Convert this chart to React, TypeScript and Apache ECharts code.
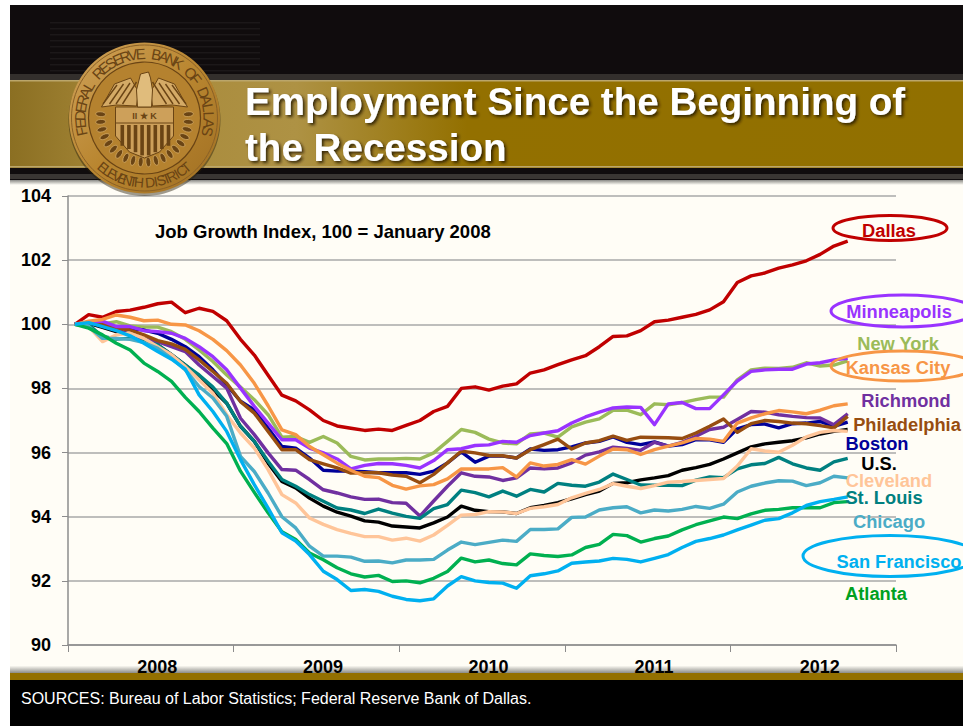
import React, { useEffect, useRef } from "react";
import * as echarts from "echarts";

const years = ["2008", "2009", "2010", "2011", "2012"];
const monthNames = ["Jan", "Feb", "Mar", "Apr", "May", "Jun", "Jul", "Aug", "Sep", "Oct", "Nov", "Dec"];
const months = years.flatMap((y) => monthNames.map((m) => `${m} ${y}`));
const yTicks = [90, 92, 94, 96, 98, 100, 102, 104];

const dallas = [100,100.3,100.22,100.4,100.44,100.53,100.64,100.69,100.36,100.5,100.4,100.11,99.53,99.04,98.41,97.79,97.61,97.33,97.0,96.83,96.76,96.69,96.73,96.69,96.85,97.0,97.28,97.44,98.0,98.05,97.95,98.07,98.14,98.48,98.58,98.74,98.89,99.02,99.3,99.62,99.64,99.8,100.08,100.13,100.22,100.31,100.45,100.7,101.3,101.51,101.6,101.75,101.85,101.98,102.18,102.44,102.59];
const minneapolis = [100,100.05,100.1,99.93,99.93,99.8,99.77,99.72,99.56,99.3,98.99,98.58,98.01,97.44,96.92,96.4,96.4,96.14,95.99,95.8,95.49,95.6,95.66,95.65,95.6,95.52,95.75,96.09,96.12,96.22,96.24,96.35,96.32,96.53,96.61,96.68,96.92,97.11,97.26,97.39,97.42,97.41,96.87,97.52,97.56,97.37,97.37,97.8,98.23,98.53,98.58,98.6,98.6,98.76,98.8,98.89,98.94];
const newYork = [100,100.03,100.01,100.08,99.95,99.91,99.91,99.77,99.53,99.2,98.84,98.42,98.04,97.65,97.18,96.48,96.5,96.32,96.5,96.3,95.88,95.77,95.8,95.8,95.82,95.8,95.99,96.35,96.72,96.63,96.42,96.3,96.27,96.58,96.61,96.48,96.8,96.95,97.05,97.32,97.32,97.18,97.52,97.49,97.56,97.65,97.73,97.73,98.27,98.58,98.63,98.62,98.66,98.8,98.7,98.73,98.86];
const kansasCity = [100,100.1,100.15,100.29,100.22,100.11,100.13,100,99.98,99.8,99.53,99.18,98.73,98.16,97.46,96.71,96.56,96.19,95.93,95.67,95.45,95.26,95.22,94.98,94.86,94.96,95.0,95.18,95.49,95.49,95.49,95.53,95.24,95.68,95.58,95.63,95.78,95.64,95.89,96.11,96.09,95.94,96.09,96.2,96.3,96.44,96.42,96.35,96.92,97.08,97.21,97.31,97.27,97.21,97.32,97.46,97.52];
const richmond = [100,100.03,99.98,99.84,99.67,99.53,99.46,99.3,99.15,98.73,98.37,98.01,97.07,96.56,95.99,95.47,95.45,95.16,94.84,94.74,94.62,94.54,94.55,94.44,94.42,94.02,94.49,94.95,95.37,95.26,95.24,95.13,95.21,95.52,95.49,95.52,95.68,95.92,96.02,96.17,96.13,96.07,96.32,96.2,96.32,96.51,96.72,96.79,97.03,97.28,97.26,97.18,97.13,97.09,97.08,96.87,97.21];
const philadelphia = [100,100.05,100,99.88,99.82,99.67,99.49,99.39,99.22,98.89,98.53,98.16,97.59,97.23,96.66,96.09,96.09,95.78,95.65,95.52,95.36,95.37,95.37,95.3,95.26,95.06,95.32,95.68,96.04,95.99,95.91,95.9,95.83,96.09,96.25,96.42,96.11,96.3,96.37,96.51,96.38,96.48,96.47,96.46,96.44,96.61,96.82,97.05,96.63,96.9,97.0,96.97,96.92,96.9,96.84,96.77,97.13];
const boston = [100,100.05,100.01,99.9,99.87,99.82,99.72,99.53,99.3,98.99,98.58,98.11,97.6,97.33,96.76,96.19,96.14,95.83,95.45,95.42,95.42,95.4,95.37,95.37,95.37,95.32,95.42,95.68,96.02,95.7,95.89,95.89,95.83,96.11,96.07,96.09,96.18,96.3,96.35,96.49,96.32,96.25,96.33,96.2,96.25,96.4,96.4,96.32,96.74,96.87,96.89,96.77,96.9,96.92,96.97,96.82,96.95];
const us = [100,100.03,99.9,99.77,99.7,99.56,99.36,99.05,98.73,98.37,97.96,97.54,96.82,96.35,95.67,95.1,94.9,94.58,94.33,94.14,94.02,93.87,93.83,93.71,93.68,93.65,93.81,93.99,94.33,94.2,94.16,94.15,94.1,94.28,94.35,94.44,94.56,94.69,94.8,95.04,95.06,95.15,95.21,95.28,95.45,95.53,95.63,95.8,95.99,96.18,96.27,96.32,96.37,96.46,96.58,96.66,96.72];
const cleveland = [100,99.93,99.46,99.67,99.72,99.56,99.3,99.05,98.68,98.27,97.85,97.18,96.61,96.14,95.47,94.69,94.43,93.96,93.76,93.6,93.48,93.38,93.38,93.27,93.33,93.24,93.43,93.73,94.05,94.07,94.16,94.15,94.1,94.26,94.31,94.38,94.59,94.73,94.85,95.03,94.95,94.88,94.97,95.08,95.1,95.13,95.16,95.19,95.58,96.12,96.05,96.01,96.23,96.49,96.63,96.69,96.66];
const stLouis = [100,99.98,99.62,99.54,99.56,99.46,99.36,99.05,98.73,98.42,98.04,97.54,96.82,96.35,95.73,95.16,94.95,94.69,94.48,94.27,94.21,94.1,94.24,94.11,94.01,93.95,94.25,94.38,94.83,94.75,94.62,94.8,94.64,94.85,94.77,95.04,94.98,94.95,95.08,95.33,95.16,94.99,94.98,94.98,94.97,95.14,95.24,95.22,95.49,95.62,95.66,95.85,95.65,95.52,95.45,95.71,95.82];
const chicago = [100,99.93,99.56,99.56,99.53,99.43,99.25,98.94,98.58,98.06,97.7,97.13,95.88,95.41,94.74,94.0,93.65,93.08,92.77,92.77,92.74,92.61,92.62,92.56,92.65,92.65,92.67,92.96,93.21,93.13,93.2,93.27,93.23,93.6,93.6,93.62,93.98,93.99,94.21,94.28,94.31,94.12,94.21,94.18,94.23,94.32,94.26,94.39,94.77,94.95,95.05,95.12,95.11,94.97,95.06,95.26,95.21];
const atlanta = [100,99.88,99.67,99.41,99.2,98.79,98.53,98.22,97.72,97.28,96.76,96.28,95.42,94.76,94.12,93.53,93.29,92.87,92.66,92.41,92.22,92.12,92.17,91.98,92.0,91.94,92.08,92.29,92.71,92.59,92.65,92.54,92.5,92.84,92.79,92.76,92.81,93.04,93.14,93.45,93.41,93.21,93.32,93.4,93.59,93.75,93.87,93.99,93.94,94.09,94.2,94.23,94.28,94.28,94.28,94.44,94.47];
const sanFrancisco = [100,100.05,99.93,99.8,99.64,99.41,99.15,98.91,98.6,97.8,97.28,96.66,95.78,95.0,94.27,93.5,93.24,92.82,92.3,92.04,91.7,91.73,91.67,91.52,91.42,91.38,91.44,91.84,92.13,92.0,91.95,91.93,91.77,92.16,92.22,92.31,92.55,92.59,92.62,92.7,92.67,92.59,92.7,92.82,93.04,93.23,93.32,93.43,93.59,93.74,93.89,93.94,94.12,94.35,94.47,94.54,94.62];

const SANS = "'Liberation Sans', Arial, sans-serif";
const NARROW = "'Liberation Sans Narrow', 'Liberation Sans', sans-serif";

// draw order: first drawn lies underneath
const lines: [string, number[], string][] = [
  ["Dallas", dallas, "#C00000"],
  ["New York", newYork, "#9BBB59"],
  ["U.S.", us, "#000000"],
  ["Boston", boston, "#000099"],
  ["Richmond", richmond, "#7030A0"],
  ["Philadelphia", philadelphia, "#974D10"],
  ["St. Louis", stLouis, "#008080"],
  ["Minneapolis", minneapolis, "#9933FF"],
  ["Kansas City", kansasCity, "#F79646"],
  ["Cleveland", cleveland, "#FFC599"],
  ["Chicago", chicago, "#4BACC6"],
  ["Atlanta", atlanta, "#00B050"],
  ["San Francisco", sanFrancisco, "#00B0F0"],
];

const labels: [string, number, number, string][] = [
  ["Dallas", 889, 230, "#C00000"],
  ["Minneapolis", 899, 311, "#9933FF"],
  ["New York", 898, 343, "#9BBB59"],
  ["Kansas City", 898, 367, "#F79646"],
  ["Richmond", 906, 400, "#7030A0"],
  ["Philadelphia", 907, 424, "#974D10"],
  ["Boston", 877, 443, "#000099"],
  ["U.S.", 879, 463, "#000000"],
  ["Cleveland", 889, 480, "#FFC599"],
  ["St. Louis", 884, 497, "#008080"],
  ["Chicago", 889, 521, "#4BACC6"],
  ["San Francisco", 899, 561, "#00B0F0"],
  ["Atlanta", 876, 593, "#00A020"],
];

const rings: [number, number, number, number, string][] = [
  [890, 228, 57, 12.5, "#C00000"],
  [903, 311, 72, 16, "#9933FF"],
  [903, 366, 72, 15, "#F79646"],
  [890, 556, 87, 20.5, "#00B0F0"],
];

const sealTop = "FEDERAL RESERVE BANK OF DALLAS";
const sealBottom = "ELEVENTH DISTRICT";

function sealGraphics(cx: number, cy: number) {
  const dark = "#6A4414";
  const els: any[] = [];
  const z = 5;
  els.push({ type: "circle", z, shape: { cx, cy: cy + 2, r: 76 }, style: { fill: "rgba(40,30,10,0.45)" } });
  els.push({
    type: "circle", z, shape: { cx, cy, r: 75.5 },
    style: {
      fill: { type: "linear", x: 0, y: 0, x2: 1, y2: 1, colorStops: [
        { offset: 0, color: "#CFA25A" }, { offset: 0.5, color: "#B98630" }, { offset: 1, color: "#A06F22" } ] },
    },
  });
  els.push({ type: "circle", z, shape: { cx, cy, r: 73 }, style: { fill: "none", stroke: "#8A6026", lineWidth: 1 } });
  els.push({ type: "circle", z, shape: { cx, cy, r: 56 }, style: { fill: "#B5822F", stroke: dark, lineWidth: 1.2 } });

  // laurel
  for (let i = 0; i < 10; i++) {
    const a = (Math.PI / 180) * (95 + i * 10);
    const r = 44;
    const px = Math.cos(a) * r;
    const py = Math.sin(a) * r;
    els.push({ type: "ellipse", z, shape: { cx: cx + px, cy: cy + py, rx: 5, ry: 2.4 }, rotation: -a, originX: cx + px, originY: cy + py, style: { fill: dark, stroke: "#DDB673", lineWidth: 0.6 } });
    els.push({ type: "ellipse", z, shape: { cx: cx - px, cy: cy + py, rx: 5, ry: 2.4 }, rotation: a, originX: cx - px, originY: cy + py, style: { fill: dark, stroke: "#DDB673", lineWidth: 0.6 } });
  }
  // shield
  els.push({ type: "polygon", z, shape: { points: [[cx - 29, cy - 11], [cx + 29, cy - 11], [cx + 29, cy + 18], [cx + 15, cy + 34], [cx, cy + 40], [cx - 15, cy + 34], [cx - 29, cy + 18]] }, style: { fill: "#CDA05A", stroke: dark, lineWidth: 1 } });
  for (let i = 0; i < 8; i++) {
    const x = cx - 24 + i * 6.6;
    const h = 32 - Math.abs(i - 3.5) * 3.2;
    els.push({ type: "rect", z, shape: { x, y: cy + 7, width: 3.6, height: h }, style: { fill: dark } });
  }
  els.push({ type: "line", z, shape: { x1: cx - 29, y1: cy + 5, x2: cx + 29, y2: cy + 5 }, style: { stroke: dark, lineWidth: 1 } });
  els.push({ type: "text", z, x: cx, y: cy - 2, style: { text: "II ★ K", fill: dark, font: `bold 9px ${SANS}`, align: "center", verticalAlign: "middle" } });
  // wings and head
  els.push({ type: "polygon", z, shape: { points: [[cx - 6, cy - 26], [cx - 14, cy - 40], [cx - 30, cy - 34], [cx - 43, cy - 11], [cx - 28, cy - 13], [cx - 8, cy - 12]] }, style: { fill: "#D4AA66", stroke: dark, lineWidth: 1 } });
  els.push({ type: "polygon", z, shape: { points: [[cx + 6, cy - 26], [cx + 14, cy - 40], [cx + 30, cy - 34], [cx + 43, cy - 11], [cx + 28, cy - 13], [cx + 8, cy - 12]] }, style: { fill: "#D4AA66", stroke: dark, lineWidth: 1 } });
  for (let i = 0; i < 4; i++) {
    const d = 11 + i * 6.5;
    els.push({ type: "line", z, shape: { x1: cx - d + 3, y1: cy - 36 + i, x2: cx - d - 11, y2: cy - 14 }, style: { stroke: dark, lineWidth: 1.4 } });
    els.push({ type: "line", z, shape: { x1: cx + d - 3, y1: cy - 36 + i, x2: cx + d + 11, y2: cy - 14 }, style: { stroke: dark, lineWidth: 1.4 } });
  }
  els.push({ type: "polygon", z, shape: { points: [[cx - 7, cy - 11], [cx - 8, cy - 28], [cx - 4, cy - 44], [cx + 4, cy - 46], [cx + 6, cy - 40], [cx + 8, cy - 28], [cx + 7, cy - 11]] }, style: { fill: "#E0BC7C", stroke: dark, lineWidth: 1 } });
  // lettering round the rim, one rotated letter at a time
  const R = 64.5;
  const topStart = (-102 * Math.PI) / 180;
  const topEnd = (102 * Math.PI) / 180;
  [...sealTop].forEach((ch, i) => {
    const t = topStart + ((topEnd - topStart) * i) / (sealTop.length - 1);
    els.push({
      type: "text", z, x: cx + R * Math.sin(t), y: cy - R * Math.cos(t), rotation: -t,
      style: { text: ch, fill: dark, font: `15px ${NARROW}`, align: "center", verticalAlign: "middle" },
    });
  });
  const botStart = (220 * Math.PI) / 180;
  const botEnd = (140 * Math.PI) / 180;
  [...sealBottom].forEach((ch, i) => {
    const t = botStart + ((botEnd - botStart) * i) / (sealBottom.length - 1);
    els.push({
      type: "text", z, x: cx + R * Math.sin(t), y: cy - R * Math.cos(t), rotation: -(t - Math.PI),
      style: { text: ch, fill: dark, font: `14px ${NARROW}`, align: "center", verticalAlign: "middle" },
    });
  });
  return els;
}

function backdrop() {
  const z = -5;
  const els: any[] = [
    { type: "rect", z, shape: { x: 0, y: 0, width: 963, height: 726 }, style: { fill: "#FFFFFF" } },
    { type: "rect", z, shape: { x: 10, y: 5, width: 953, height: 721 }, style: { fill: "#100C0D" } },
    { type: "rect", z, shape: { x: 10, y: 74, width: 953, height: 6 }, style: { fill: "#332F2C" } },
    { type: "rect", z, shape: { x: 10, y: 80, width: 953, height: 88 }, style: {
      fill: { type: "linear", x: 0, y: 0, x2: 1, y2: 0, colorStops: [
        { offset: 0, color: "#8B6F22" }, { offset: 0.12, color: "#A8893A" }, { offset: 0.3, color: "#AE9244" }, { offset: 0.48, color: "#937000" }, { offset: 1, color: "#917000" } ] },
    } },
    { type: "rect", z, shape: { x: 10, y: 80, width: 953, height: 1.5 }, style: { fill: "#BBA66A" } },
    { type: "rect", z, shape: { x: 10, y: 166, width: 953, height: 1.5 }, style: { fill: "#BBA66A" } },
    { type: "rect", z, shape: { x: 10, y: 174, width: 953, height: 5 }, style: { fill: "#3A3633" } },
    { type: "rect", z, shape: { x: 10, y: 180, width: 953, height: 493 }, style: {
      fill: { type: "linear", x: 0, y: 0, x2: 0, y2: 1, colorStops: [
        { offset: 0, color: "#8A8A86" }, { offset: 0.01, color: "#FFFDF6" }, { offset: 0.985, color: "#FFFDF6" }, { offset: 1, color: "#8C8C88" } ] },
    } },
    { type: "rect", z, shape: { x: 10, y: 673, width: 953, height: 7 }, style: { fill: "#937000" } },
    { type: "rect", z, shape: { x: 10, y: 680, width: 953, height: 46 }, style: { fill: "#000000" } },
  ];
  for (let i = 0; i < 9; i++) {
    els.push({ type: "rect", z, shape: { x: 50, y: 22 + i * 6, width: 210, height: 1.5 }, style: { fill: "rgba(255,255,255,0.05)" } });
  }
  return els;
}

function foreground() {
  const els: any[] = [];
  rings.forEach(([cx, cy, rx, ry, color]) => {
    els.push({ type: "ellipse", z: 10, shape: { cx, cy, rx, ry }, style: { fill: "none", stroke: color, lineWidth: 3 } });
  });
  labels.forEach(([text, x, y, color]) => {
    els.push({ type: "text", z: 11, x, y, style: { text, fill: color, font: `bold 18.3px ${SANS}`, align: "center", verticalAlign: "middle" } });
  });
  const shadow = { textShadowColor: "rgba(40,25,0,0.85)", textShadowBlur: 3, textShadowOffsetX: 2, textShadowOffsetY: 2 };
  els.push({ type: "text", z: 11, x: 245, y: 101, style: { text: "Employment Since the Beginning of", fill: "#FFFFFF", font: `bold 38.6px ${SANS}`, verticalAlign: "middle", ...shadow } });
  els.push({ type: "text", z: 11, x: 245, y: 147, style: { text: "the Recession", fill: "#FFFFFF", font: `bold 38.6px ${SANS}`, verticalAlign: "middle", ...shadow } });
  els.push({ type: "text", z: 11, x: 155, y: 231, style: { text: "Job Growth Index, 100 = January 2008", fill: "#000000", font: `bold 18.5px ${SANS}`, verticalAlign: "middle" } });
  els.push({ type: "text", z: 11, x: 21, y: 698, style: { text: "SOURCES: Bureau of Labor Statistics; Federal Reserve Bank of Dallas.", fill: "#FFFFFF", font: `16px ${SANS}`, verticalAlign: "middle" } });
  return els;
}

export default function App() {
  const ref = useRef<HTMLDivElement>(null);
  useEffect(() => {
    if (!ref.current) return;
    const chart = echarts.init(ref.current, undefined, { renderer: "svg" });
    chart.setOption({
      animation: false,
      backgroundColor: "#FFFFFF",
      grid: { left: 68, right: 67, top: 196, bottom: 81, containLabel: false },
      xAxis: [
        {
          type: "category", data: months, boundaryGap: true, position: "bottom",
          axisLine: { show: false }, axisTick: { show: false }, axisLabel: { show: false },
        },
        {
          type: "category", data: years, boundaryGap: true, position: "bottom",
          axisLine: { show: true, lineStyle: { color: "#8C8C8C", width: 1.5 } },
          axisTick: { show: true, length: 7, alignWithLabel: false, lineStyle: { color: "#8C8C8C" } },
          axisLabel: { show: true, color: "#000000", fontFamily: SANS, fontWeight: "bold", fontSize: 18, margin: 13, interval: 0, padding: [0, 0, 0, 13] },
          splitLine: { show: false },
        },
      ],
      yAxis: {
        type: "value", min: yTicks[0], max: yTicks[yTicks.length - 1], interval: 2,
        axisLine: { show: true, lineStyle: { color: "#8C8C8C", width: 1.5 } },
        axisTick: { show: true, length: 6, lineStyle: { color: "#8C8C8C" } },
        axisLabel: { color: "#000000", fontFamily: SANS, fontWeight: "bold", fontSize: 18, margin: 17 },
        splitLine: { show: true, lineStyle: { color: "#A8A8A8", width: 1.5 } },
      },
      series: lines.map(([name, data, color]) => ({
        name, type: "line", xAxisIndex: 0, data, showSymbol: false, smooth: false,
        lineStyle: { color, width: 3.4, join: "round" }, itemStyle: { color }, z: 3,
      })),
      graphic: { elements: [...backdrop(), ...sealGraphics(144.5, 118), ...foreground()] },
    });
    return () => chart.dispose();
  }, []);
  return <div ref={ref} style={{ position: "absolute", left: 0, top: 0, width: 963, height: 726 }} />;
}
